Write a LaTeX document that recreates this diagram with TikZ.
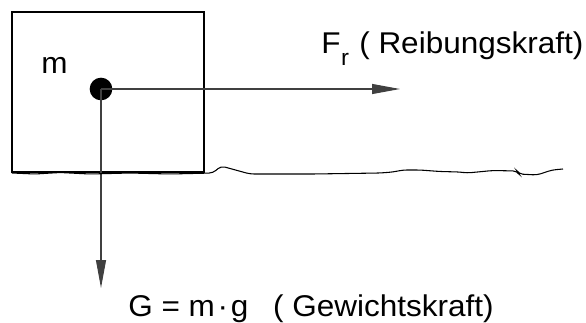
\documentclass[tikz,border=0pt]{standalone}
\usepackage{fontspec}
\setmainfont{Liberation Sans}
\usetikzlibrary{
		calc,
		positioning,
		arrows.meta
	}
\tikzset{
		>={Triangle[length=21pt,width=7.5pt]}
	}
\tikzset{force/.style={->,draw=black!75,line width=0.8pt},
	lbl/.style={anchor=base west,inner sep=0pt,font=\fontsize{22.5}{27}\selectfont}}
\newcommand{\wide}[1]{\scalebox{1.05}[1]{#1}}

\begin{document}
\begin{tikzpicture}[x=0.75pt, y=-0.75pt] % (one unit = one pixel of the sketch, y downwards)
		\useasboundingbox (0,0) rectangle (586,322);
		\draw[line width=0.9pt] (12,12) rectangle (204,172); % the body
		\node[lbl] (mass) at (41,73) {\wide{m}};
		\node[circle,fill,inner sep=0pt,minimum size=17pt] (cg) at (101,89) {};
		\coordinate (frtip) at (400,89);
		\coordinate (gtip) at (101,288);
		\draw[force] (cg.center) -- (frtip);
		\draw[force] (cg.center) -- (gtip);
		% the ground, drawn by hand
		\draw[line width=0.8pt,rounded corners=3pt]
		  (12,173) -- (35,174) -- (60,172.5) -- (90,174) -- (130,173) -- (170,174) -- (213,173)
		  -- (221,166) -- (250,174) -- (313,174) -- (380,173) -- (393,172) -- (403,170) -- (420,170)
		  -- (440,171.5) -- (460,172) -- (467,173) -- (493,170.5) -- (517,171) -- (519,174)
		  -- (537,175) -- (552,170) -- (563,169);
		\node[lbl] (fr) at (321,53) {\wide{F\kern0.5pt\raisebox{-0.42em}{\fontsize{17}{17}\selectfont r}\kern1pt\ ( Reibungskraft)}};
		\node[lbl] (g) at (128,316) {\wide{G = m\kern2pt·\kern2pt g\hspace{0.5em} ( Gewichtskraft)}};
	\end{tikzpicture}
\end{document}
